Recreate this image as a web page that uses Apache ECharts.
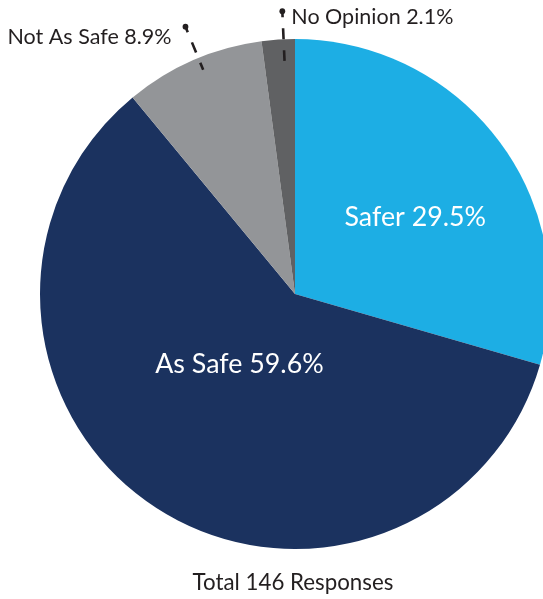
<!DOCTYPE html>
<html>
<head>
<meta charset="utf-8">
<script src="https://cdn.jsdelivr.net/npm/echarts@6/dist/echarts.min.js"></script>
<style>
  html, body { margin: 0; padding: 0; background: #ffffff; }
  #chart { width: 543px; height: 599px; }
</style>
</head>
<body>
<div id="chart"></div>
<script>
// Survey answers, drawn clockwise from twelve o'clock
const categories = ['Safer', 'As Safe', 'Not As Safe', 'No Opinion'];
const percents = [29.5, 59.6, 8.9, 2.1];
const totalResponses = 146;

const sliceColors = ['#1daee4', '#1b325f', '#939598', '#606163'];
const FONT = 'Lato, "Open Sans", sans-serif';
const INK = '#231f20';

// Slices labelled inside the pie (index -> nudge from the default inside spot)
const insideLabels = { 0: [16, 2], 1: [16, -39] };
// Slices labelled outside with a dashed pin leader
const callouts = [
  { index: 2, frac: 0.54, inner: 0.95, outer: 1.133, side: 'left', dx: -14, dy: 10 },
  { index: 3, frac: 0.66, inner: 0.915, outer: 1.11, side: 'right', dx: 9, dy: 6 }
];

function labelText(i) {
  return categories[i] + ' ' + percents[i].toFixed(1) + '%';
}

const seriesData = categories.map((name, i) => {
  const nudge = insideLabels[i];
  return {
    name: name,
    value: percents[i],
    itemStyle: { color: sliceColors[i] },
    label: nudge
      ? { show: true, position: 'inside', offset: nudge, formatter: labelText(i) }
      : { show: false }
  };
});

const chart = echarts.init(document.getElementById('chart'), null, { renderer: 'canvas' });

chart.setOption({
  animation: false,
  backgroundColor: '#ffffff',
  series: [{
    type: 'pie',
    center: [295, 294],
    radius: 255,
    startAngle: 90,
    clockwise: true,
    silent: true,
    labelLine: { show: false },
    label: {
      color: '#ffffff',
      fontFamily: FONT,
      fontSize: 26.8,
      fontWeight: 'normal'
    },
    itemStyle: { borderWidth: 0 },
    data: seriesData
  }]
});

// Leader lines, pins and outside labels placed from the pie's own slice layout
const pieData = chart.getModel().getSeriesByIndex(0).getData();
const graphics = [];
callouts.forEach(c => {
  const lay = pieData.getItemLayout(c.index);
  const a = lay.startAngle + (lay.endAngle - lay.startAngle) * c.frac;
  const at = k => [lay.cx + lay.r * k * Math.cos(a), lay.cy + lay.r * k * Math.sin(a)];
  const head = at(c.outer);
  const foot = at(c.inner);
  graphics.push({
    type: 'line',
    silent: true,
    z: 100,
    shape: { x1: head[0], y1: head[1], x2: foot[0], y2: foot[1] },
    style: { stroke: INK, lineWidth: 2.6, lineDash: [11, 11], lineDashOffset: 5 }
  });
  graphics.push({
    type: 'circle',
    silent: true,
    z: 100,
    shape: { cx: head[0], cy: head[1], r: 2.9 },
    style: { fill: INK }
  });
  graphics.push({
    type: 'text',
    silent: true,
    z: 100,
    x: head[0] + c.dx,
    y: head[1] + c.dy,
    style: {
      text: labelText(c.index),
      fill: INK,
      font: '21.5px ' + FONT,
      textAlign: c.side === 'left' ? 'right' : 'left',
      textVerticalAlign: 'middle'
    }
  });
});

graphics.push({
  type: 'text',
  silent: true,
  z: 100,
  x: 293,
  y: 583,
  style: {
    text: 'Total ' + totalResponses + ' Responses',
    fill: INK,
    font: '22.3px ' + FONT,
    textAlign: 'center',
    textVerticalAlign: 'middle'
  }
});

chart.setOption({ graphic: graphics });
</script>
</body>
</html>
